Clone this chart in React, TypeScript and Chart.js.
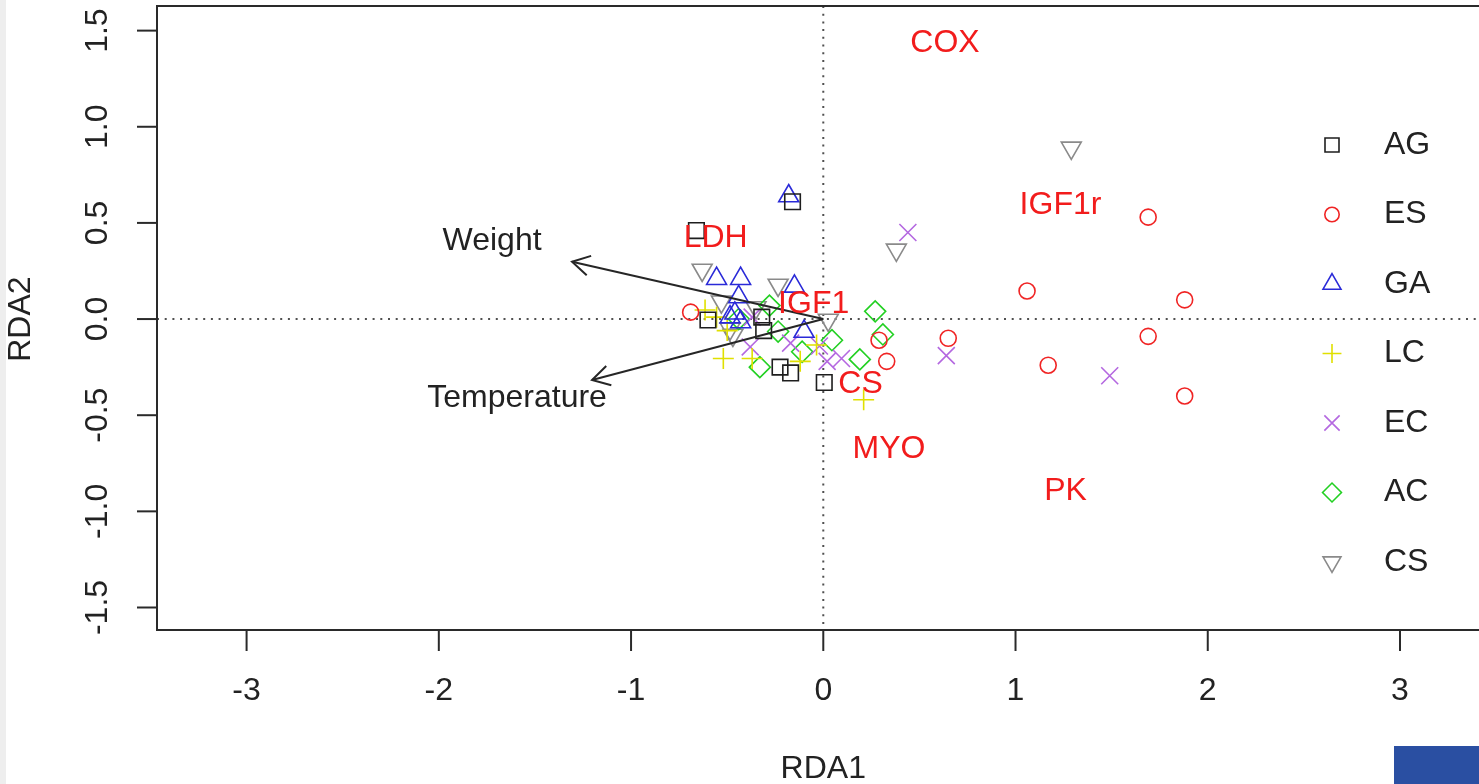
import React, { useEffect, useRef } from 'react';
import { Chart, registerables } from 'chart.js';
import { drawPoint } from 'chart.js/helpers';

Chart.register(...registerables);

// ---- data ----
const groupNames = ['AG', 'ES', 'GA', 'LC', 'EC', 'AC', 'CS'];

const agX = [-0.66, -0.16, -0.6, -0.32, -0.31, -0.225, -0.17, 0.005];
const agY = [0.46, 0.61, -0.005, 0.01, -0.06, -0.25, -0.28, -0.33];

const esX = [-0.69, 0.29, 0.33, 0.65, 1.06, 1.17, 1.69, 1.88, 1.69, 1.88];
const esY = [0.036, -0.11, -0.22, -0.1, 0.146, -0.24, 0.53, 0.1, -0.09, -0.4];

const gaX = [-0.18, -0.555, -0.43, -0.15, -0.44, -0.46, -0.43, -0.1, -0.485];
const gaY = [0.64, 0.21, 0.21, 0.17, 0.115, 0.03, -0.015, -0.065, 0.01];

const lcX = [-0.615, -0.555, -0.52, -0.37, -0.12, -0.035, 0.21, -0.5];
const lcY = [0.047, 0.01, -0.205, -0.205, -0.22, -0.135, -0.42, -0.06];

const ecX = [0.44, 0.64, 1.49, 0.095, 0.02, -0.02, -0.17, -0.37, -0.38];
const ecY = [0.45, -0.19, -0.295, -0.205, -0.22, -0.14, -0.125, 0.01, -0.145];

const acX = [0.27, 0.31, 0.19, 0.045, -0.11, -0.33, -0.28, -0.235, -0.44];
const acY = [0.04, -0.08, -0.21, -0.11, -0.17, -0.25, 0.07, -0.065, 0.0];

const csX = [1.29, 0.38, -0.63, -0.235, -0.53, 0.026, -0.47, -0.485, -0.35];
const csY = [0.89, 0.36, 0.255, 0.177, 0.09, -0.005, -0.083, -0.05, 0.06];

const speciesNames = ['COX', 'IGF1r', 'LDH', 'IGF1', 'CS', 'MYO', 'PK'];
const speciesX = [0.633, 1.234, -0.56, -0.05, 0.194, 0.342, 1.26];
const speciesY = [1.437, 0.593, 0.42, 0.075, -0.338, -0.678, -0.894];

const envNames = ['Weight', 'Temperature'];
const envX = [-1.307, -1.203];
const envY = [0.298, -0.317];
const envLabelX = [-1.723, -1.593];
const envLabelY = [0.407, -0.41];

const xTicks = [-3, -2, -1, 0, 1, 2, 3];
const xTickLabels = ['-3', '-2', '-1', '0', '1', '2', '3'];
const yTicks = [-1.5, -1, -0.5, 0, 0.5, 1, 1.5];
const yTickLabels = ['-1.5', '-1.0', '-0.5', '0.0', '0.5', '1.0', '1.5'];

const xTitle = 'RDA1';
const yTitle = 'RDA2';

// ---- styles ----
const groupColors = ['#1e1e1e', '#f02424', '#2a2ad8', '#e0e000', '#b468e0', '#22d022', '#8a8a8a'];
const groupShapes = ['rect', 'circle', 'triangle', 'cross', 'crossRot', 'rectRot', 'triangle'];
const groupRotation = [0, 0, 0, 0, 0, 0, 180];
const groupRadius = [11, 8, 11.5, 10.5, 12, 10.5, 11.5];

const FONT = '32px "Liberation Sans", Arial, Helvetica, sans-serif';
const AXIS_COLOR = '#2a2a2a';

const groupXs = [agX, esX, gaX, lcX, ecX, acX, csX];
const groupYs = [agY, esY, gaY, lcY, ecY, acY, csY];

const rPlugin = {
  id: 'rplot',
  beforeDraw(chart: any) {
    const ctx = chart.ctx;
    ctx.save();
    ctx.fillStyle = '#ffffff';
    ctx.fillRect(0, 0, chart.width, chart.height);
    ctx.fillStyle = '#eeeeee';
    ctx.fillRect(0, 0, 6, chart.height);
    ctx.restore();
  },
  beforeDatasetsDraw(chart: any) {
    const { ctx, chartArea: a, scales } = chart;
    const x0 = scales.x.getPixelForValue(0);
    const y0 = scales.y.getPixelForValue(0);
    ctx.save();
    ctx.strokeStyle = '#505050';
    ctx.lineWidth = 2;
    ctx.setLineDash([2, 5.7]);
    ctx.beginPath();
    ctx.moveTo(a.left, y0);
    ctx.lineTo(a.right, y0);
    ctx.stroke();
    ctx.beginPath();
    ctx.moveTo(x0, a.top);
    ctx.lineTo(x0, a.bottom);
    ctx.stroke();
    ctx.restore();
  },
  afterDatasetsDraw(chart: any) {
    const { ctx, chartArea: a, scales } = chart;
    const xs = scales.x;
    const ys = scales.y;
    const x0 = xs.getPixelForValue(0);
    const y0 = ys.getPixelForValue(0);
    ctx.save();

    // environmental arrows
    ctx.strokeStyle = '#262626';
    ctx.lineWidth = 2;
    ctx.setLineDash([]);
    envX.forEach((vx, i) => {
      const tx = xs.getPixelForValue(vx);
      const ty = ys.getPixelForValue(envY[i]);
      ctx.beginPath();
      ctx.moveTo(x0, y0);
      ctx.lineTo(tx, ty);
      ctx.stroke();
      const ang = Math.atan2(y0 - ty, x0 - tx);
      const L = 20;
      const spread = Math.PI / 6;
      ctx.beginPath();
      ctx.moveTo(tx + L * Math.cos(ang + spread), ty + L * Math.sin(ang + spread));
      ctx.lineTo(tx, ty);
      ctx.lineTo(tx + L * Math.cos(ang - spread), ty + L * Math.sin(ang - spread));
      ctx.stroke();
    });

    ctx.font = FONT;
    ctx.textAlign = 'center';
    ctx.textBaseline = 'middle';
    ctx.fillStyle = '#222222';
    envNames.forEach((n, i) => {
      ctx.fillText(n, xs.getPixelForValue(envLabelX[i]), ys.getPixelForValue(envLabelY[i]));
    });

    // species labels
    ctx.fillStyle = '#f21c1c';
    speciesNames.forEach((n, i) => {
      ctx.fillText(n, xs.getPixelForValue(speciesX[i]), ys.getPixelForValue(speciesY[i]));
    });

    // plot box (right edge lies beyond the picture)
    ctx.strokeStyle = AXIS_COLOR;
    ctx.lineWidth = 2;
    ctx.beginPath();
    ctx.moveTo(a.right + 5, a.top);
    ctx.lineTo(a.left, a.top);
    ctx.lineTo(a.left, a.bottom);
    ctx.lineTo(a.right + 5, a.bottom);
    ctx.stroke();

    // x axis ticks
    ctx.fillStyle = '#222222';
    xTicks.forEach((v, i) => {
      const px = xs.getPixelForValue(v);
      ctx.beginPath();
      ctx.moveTo(px, a.bottom);
      ctx.lineTo(px, a.bottom + 21);
      ctx.stroke();
      ctx.fillText(xTickLabels[i], px, a.bottom + 61);
    });
    ctx.fillText(xTitle, xs.getPixelForValue(0), a.bottom + 139);

    // y axis ticks
    yTicks.forEach((v, i) => {
      const py = ys.getPixelForValue(v);
      ctx.beginPath();
      ctx.moveTo(a.left, py);
      ctx.lineTo(a.left - 20, py);
      ctx.stroke();
      ctx.save();
      ctx.translate(a.left - 59, py);
      ctx.rotate(-Math.PI / 2);
      ctx.fillText(yTickLabels[i], 0, 0);
      ctx.restore();
    });
    ctx.save();
    ctx.translate(a.left - 136, ys.getPixelForValue(0));
    ctx.rotate(-Math.PI / 2);
    ctx.fillText(yTitle, 0, 0);
    ctx.restore();

    // legend
    const legX = 1332;
    const legTextX = 1384;
    const legY0 = 145;
    const legStep = 69.5;
    groupNames.forEach((n, i) => {
      const ly = legY0 + i * legStep;
      ctx.save();
      ctx.strokeStyle = groupColors[i];
      ctx.fillStyle = 'rgba(0,0,0,0)';
      ctx.lineWidth = 1.6;
      drawPoint(ctx, {
        pointStyle: groupShapes[i],
        rotation: groupRotation[i],
        radius: groupRadius[i] * 0.9,
        borderWidth: 1.6,
      } as any, legX, ly);
      ctx.restore();
      ctx.fillStyle = '#222222';
      ctx.textAlign = 'left';
      ctx.fillText(n, legTextX, ly);
    });

    // blue block at lower right
    ctx.fillStyle = '#2a4fa2';
    ctx.fillRect(1394, 746, chart.width - 1394, chart.height - 746);

    ctx.restore();
  },
};

export default function App() {
  const canvasRef = useRef<HTMLCanvasElement | null>(null);

  useEffect(() => {
    if (!canvasRef.current) return;
    const datasets = groupNames.map((name, i) => ({
      label: name,
      data: groupXs[i].map((x, j) => ({ x, y: groupYs[i][j] })),
      showLine: false,
      pointStyle: groupShapes[i] as any,
      pointRotation: groupRotation[i],
      pointRadius: groupRadius[i],
      pointBorderWidth: 1.6,
      pointBorderColor: groupColors[i],
      pointBackgroundColor: 'rgba(0,0,0,0)',
      borderColor: groupColors[i],
      backgroundColor: 'rgba(0,0,0,0)',
    }));

    const chart = new Chart(canvasRef.current, {
      type: 'scatter',
      data: { datasets },
      options: {
        animation: false,
        responsive: false,
        devicePixelRatio: 1,
        events: [],
        layout: { autoPadding: false, padding: { left: 157, top: 6, right: 0, bottom: 154 } },
        scales: {
          x: { type: 'linear', display: false, min: -3.466, max: 3.411 },
          y: { type: 'linear', display: false, min: -1.617, max: 1.628 },
        },
        plugins: {
          legend: { display: false },
          tooltip: { enabled: false },
        },
      },
      plugins: [rPlugin],
    });
    return () => chart.destroy();
  }, []);

  return (
    <div style={{ position: 'fixed', left: 0, top: 0, width: 1479, height: 784, overflow: 'hidden', background: '#fff' }}>
      <canvas ref={canvasRef} width={1479} height={784} style={{ display: 'block' }} />
    </div>
  );
}
